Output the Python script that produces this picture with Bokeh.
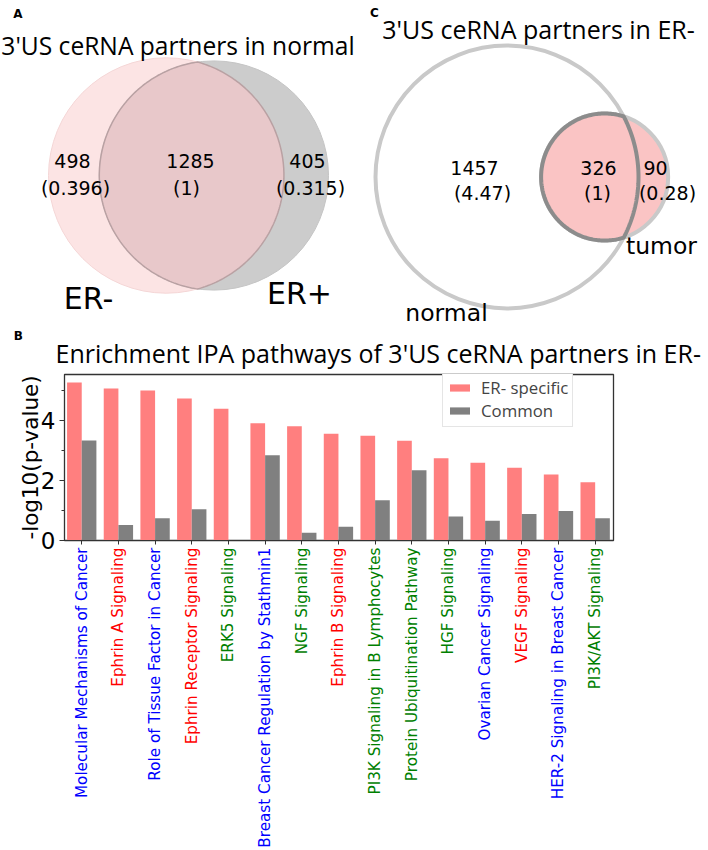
import math
import numpy as np
from bokeh.plotting import figure
from bokeh.layouts import column, row
from bokeh.models import Range1d, FixedTicker
from bokeh.core.properties import value
from bokeh.embed import file_html
from bokeh.resources import INLINE

# ---------------- data ----------------
# Panel A: 3'US ceRNA partners in normal  (ER- only, both, ER+ only)
venn_a_title = "3'US ceRNA partners in normal"
venn_a_sets = ["ER-", "ER+"]
venn_a_counts = [498, 1285, 405]
venn_a_ratios = [0.396, 1, 0.315]

# Panel C: 3'US ceRNA partners in ER-  (normal only, both, tumor only)
venn_c_title = "3'US ceRNA partners in ER-"
venn_c_sets = ["normal", "tumor"]
venn_c_counts = [1457, 326, 90]
venn_c_ratios = [4.47, 1, 0.28]

# Panel B: enrichment of IPA pathways
bar_title = "Enrichment IPA pathways of 3'US ceRNA partners in ER-"
pathways = [
    "Molecular Mechanisms of Cancer",
    "Ephrin A Signaling",
    "Role of Tissue Factor in Cancer",
    "Ephrin Receptor Signaling",
    "ERK5 Signaling",
    "Breast Cancer Regulation by Stathmin1",
    "NGF Signaling",
    "Ephrin B Signaling",
    "PI3K Signaling in B Lymphocytes",
    "Protein Ubiquitination Pathway",
    "HGF Signaling",
    "Ovarian Cancer Signaling",
    "VEGF Signaling",
    "HER-2 Signaling in Breast Cancer",
    "PI3K/AKT Signaling",
]
pathway_groups = ["blue", "red", "blue", "red", "green", "blue", "green", "red",
                  "green", "green", "green", "blue", "red", "blue", "green"]
er_specific = [5.26, 5.06, 5.00, 4.73, 4.39, 3.91, 3.81, 3.56, 3.49, 3.32, 2.74, 2.59, 2.42, 2.20, 1.94]
common = [3.33, 0.52, 0.74, 1.04, 0.0, 2.84, 0.26, 0.46, 1.34, 2.34, 0.80, 0.66, 0.88, 0.98, 0.74]
series_names = ["ER- specific", "Common"]
y_ticks = [0, 2, 4]
y_minor = [1, 3, 5]

# ---------------- layout constants (screen px) ----------------
W, H = 708, 850
TOP_H = 371               # venn panels + title strip of panel B
FRAME_L, FRAME_R, FRAME_T, FRAME_B = 64, 613, 374, 540
LABEL_TOP = 547           # where the rotated category names start
B_BORDER_TOP = FRAME_T - TOP_H
B_BORDER_BOT = 14
B_H = B_BORDER_TOP + (FRAME_B - FRAME_T) + B_BORDER_BOT
OVERLAP = FRAME_B + B_BORDER_BOT - LABEL_TOP
L_H = H - LABEL_TOP
TITLE_FONT = "Open Sans"
BODY_FONT = "DejaVu Sans"


def fs(px):
    return "%.1fpx" % px


def lens_area(r1, r2, d):
    if d >= r1 + r2:
        return 0.0
    if d <= abs(r1 - r2):
        return math.pi * min(r1, r2) ** 2
    a1 = r1 ** 2 * math.acos((d * d + r1 * r1 - r2 * r2) / (2 * d * r1))
    a2 = r2 ** 2 * math.acos((d * d + r2 * r2 - r1 * r1) / (2 * d * r2))
    a3 = 0.5 * math.sqrt((-d + r1 + r2) * (d + r1 - r2) * (d - r1 + r2) * (d + r1 + r2))
    return a1 + a2 - a3


def venn2_geometry(counts):
    a_only, both, b_only = counts
    r1 = math.sqrt((a_only + both) / math.pi)
    r2 = math.sqrt((b_only + both) / math.pi)
    lo, hi = abs(r1 - r2) + 1e-9, r1 + r2 - 1e-9
    for _ in range(200):
        mid = 0.5 * (lo + hi)
        if lens_area(r1, r2, mid) > both:
            lo = mid
        else:
            hi = mid
    return r1, r2, 0.5 * (lo + hi)


def lens_points(c1x, c2x, cy, R1, R2):
    d = c2x - c1x
    x0 = (d * d + R1 * R1 - R2 * R2) / (2 * d)
    h = math.sqrt(max(R1 * R1 - x0 * x0, 0.0))
    t1 = math.atan2(h, x0)
    t2 = math.atan2(h, d - x0)
    a1 = np.linspace(-t1, t1, 160)
    a2 = np.linspace(math.pi - t2, math.pi + t2, 160)
    xs = np.concatenate([c1x + R1 * np.cos(a1), c2x + R2 * np.cos(a2)])
    ys = np.concatenate([cy + R1 * np.sin(a1), cy + R2 * np.sin(a2)])
    return xs, ys


def add_text(p, x, y, txt, size, font=BODY_FONT, style="normal", color="black", align="center"):
    p.text(x=[x], y=[y], text=[txt], text_font=value(font), text_font_size=fs(size),
           text_font_style=style, text_color=color, text_align=align, text_baseline="middle")


def fmt_ratio(v):
    return "(%s)" % ("%g" % v)


# ---------------- top figure: panels A and C, plus the title of panel B ----------------
pTop = figure(width=W, height=TOP_H, x_range=Range1d(0, W), y_range=Range1d(TOP_H, 0),
              output_backend="svg", toolbar_location=None, x_axis_type=None,
              y_axis_type=None, title=None, min_border=0, min_border_left=0,
              min_border_right=0, min_border_top=0, min_border_bottom=0)
pTop.outline_line_color = None
pTop.background_fill_color = "white"
pTop.border_fill_color = "white"

# Panel A
r1, r2, d = venn2_geometry(venn_a_counts)
left_edge, right_edge, cyA = 48.0, 328.0, 175.0
k = (right_edge - left_edge) / (r1 + d + r2)
R1, R2 = r1 * k, r2 * k
c1x = left_edge + R1
c2x = c1x + d * k
pTop.circle(x=[c1x], y=[cyA], radius=R1, fill_color="#fce4e4", line_color="#f4d6d6", line_width=1)
pTop.circle(x=[c2x], y=[cyA], radius=R2, fill_color="#cccccc", line_color="#c4c4c4", line_width=1)
lx, ly = lens_points(c1x, c2x, cyA, R1, R2)
pTop.patch(x=lx, y=ly, fill_color="#e8c8ca", line_color="#b9a1a3", line_width=1.5)

a_count_x = [72, 190, 307]
a_ratio_x = [75, 186, 310]
for i in range(3):
    add_text(pTop, a_count_x[i], 160, str(venn_a_counts[i]), 19)
    add_text(pTop, a_ratio_x[i], 187, fmt_ratio(venn_a_ratios[i]), 19)
add_text(pTop, 88, 298, venn_a_sets[0], 30)
add_text(pTop, 299, 293, venn_a_sets[1], 30)
add_text(pTop, 177.5, 45, venn_a_title, 24.6, font=TITLE_FONT)
add_text(pTop, 17.5, 13.3, "A", 12, style="bold")

# Panel C
r1, r2, d = venn2_geometry(venn_c_counts)
k = 131.5 / r1
R1, R2 = r1 * k, r2 * k
c1x, cyC = 506.5, 176.5
c2x = c1x + d * k
pTop.circle(x=[c1x], y=[cyC], radius=R1, fill_color="white", line_color="#c9c9c9", line_width=4)
pTop.circle(x=[c2x], y=[cyC], radius=R2, fill_color="#fac4c4", line_color="#c9c9c9", line_width=4)
lx, ly = lens_points(c1x, c2x, cyC, R1, R2)
pTop.patch(x=lx, y=ly, fill_color="#fac4c4", line_color="#8c8c8c", line_width=4)

c_count_x = [474, 598, 655]
c_ratio_x = [482, 597, 667]
for i in range(3):
    add_text(pTop, c_count_x[i], 167, str(venn_c_counts[i]), 19)
    add_text(pTop, c_ratio_x[i], 192, fmt_ratio(venn_c_ratios[i]), 19)
add_text(pTop, 446, 312, venn_c_sets[0], 23.5)
add_text(pTop, 661, 245, venn_c_sets[1], 23.5)
add_text(pTop, 538, 28, venn_c_title, 25, font=TITLE_FONT)
add_text(pTop, 374, 12.5, "C", 12, style="bold")

# Panel B title
add_text(pTop, 17.7, 335, "B", 12, style="bold")
add_text(pTop, 55, 352, bar_title, 25, font=TITLE_FONT, align="left")

# ---------------- Panel B: bars ----------------
x_range = Range1d(-0.47, 14.5)
pB = figure(width=W, height=B_H, x_range=x_range, y_range=Range1d(0, 5.53),
            output_backend="svg", toolbar_location=None, title=None,
            min_border_left=FRAME_L, min_border_right=W - FRAME_R,
            min_border_top=B_BORDER_TOP, min_border_bottom=B_BORDER_BOT)
pB.grid.visible = False
pB.background_fill_color = "white"
pB.border_fill_color = "white"
pB.outline_line_color = "#333333"
pB.outline_line_width = 1.3

idx = np.arange(len(pathways))
pB.vbar(x=idx - 0.2, top=er_specific, width=0.4, fill_color="#ff7f7f", line_color=None,
        legend_label=series_names[0])
pB.vbar(x=idx + 0.2, top=common, width=0.4, fill_color="#808080", line_color=None,
        legend_label=series_names[1])

xa = pB.xaxis[0]
xa.ticker = FixedTicker(ticks=[], minor_ticks=list(idx))
xa.major_label_standoff = 0
xa.major_tick_out = 0
xa.minor_tick_out = 4
xa.minor_tick_in = 0
xa.axis_line_color = "#333333"
xa.minor_tick_line_color = "#333333"

ya = pB.yaxis[0]
ya.ticker = FixedTicker(ticks=y_ticks, minor_ticks=y_minor)
ya.major_label_text_font = BODY_FONT
ya.major_label_text_font_size = fs(23)
ya.major_label_text_color = "black"
ya.major_label_standoff = 4
ya.major_tick_out = 5
ya.major_tick_in = 0
ya.minor_tick_out = 3
ya.minor_tick_in = 0
ya.axis_line_color = "#333333"
ya.major_tick_line_color = "#333333"
ya.minor_tick_line_color = "#333333"
ya.axis_label = "-log10(p-value)"
ya.axis_label_text_font = BODY_FONT
ya.axis_label_text_font_size = fs(21.5)
ya.axis_label_text_font_style = "normal"
ya.axis_label_text_color = "black"
ya.axis_label_standoff = -5

lg = pB.legend[0]
lg.location = (442 - FRAME_L, FRAME_B - 427)
lg.label_text_font = TITLE_FONT
lg.label_text_font_size = fs(16.8)
lg.glyph_width = 25
lg.glyph_height = 9
lg.label_height = 16
lg.label_standoff = 9
lg.padding = 4
lg.spacing = -4
lg.margin = 0
lg.border_line_color = "#cccccc"
lg.border_line_width = 1
lg.background_fill_alpha = 1.0

# ---------------- Panel B: rotated, coloured category labels ----------------
pL = figure(width=W, height=L_H, x_range=x_range, y_range=Range1d(-L_H, 0),
            output_backend="svg", toolbar_location=None, x_axis_type=None,
            y_axis_type=None, title=None, min_border=0, min_border_left=FRAME_L,
            min_border_right=W - FRAME_R, min_border_top=0, min_border_bottom=0)
pL.outline_line_color = None
pL.grid.visible = False
pL.background_fill_alpha = 0.0
pL.border_fill_alpha = 0.0
pL.margin = (-OVERLAP, 0, 0, 0)
pL.text(x=list(idx), y=[0] * len(pathways), text=pathways, angle=math.pi / 2,
        text_align="right", text_baseline="middle", text_color=pathway_groups,
        text_font=value(BODY_FONT), text_font_size=fs(15.2))

layout = column(row(pTop), pB, pL)
open("out.html", "w").write(file_html(layout, INLINE))
